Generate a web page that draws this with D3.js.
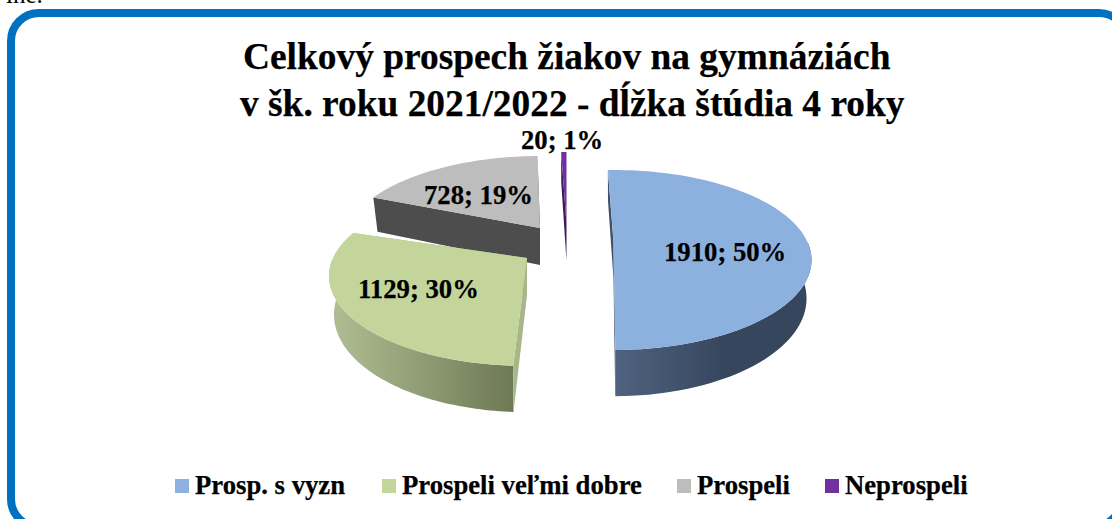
<!DOCTYPE html>
<html><head><meta charset="utf-8">
<script src="https://cdn.jsdelivr.net/npm/d3@7"></script>
<style>html,body{margin:0;padding:0;background:#fff;overflow:hidden}svg{display:block}text{font-family:"Liberation Serif",serif;font-weight:bold;fill:#000;stroke:#000;stroke-width:.25}</style>
</head><body><svg id="c" width="1112" height="519"></svg>
<script>
const categories=["Prosp. s vyzn","Prospeli veľmi dobre","Prospeli","Neprospeli"];
const values=[1910,1129,728,20];
const percents=[50,30,19,1];
const topColors=["#8DB1DF","#C3D59B","#BDBDBD","#7030A0"];
const titleLines=["Celkový prospech žiakov na gymnáziách","v šk. roku 2021/2022 - dĺžka štúdia 4 roky"];

const svg=d3.select("#c");
const deg=Math.PI/180;
const k=0.2,Rx=194,Ry=86.4,D=37,lowerShrink=0.975;
// per-slice placement of the exploded pieces
const apex=[[613.5,242],[527,258],[540,228],[566.5,224]];
const adjust=[[0,0],[3.7,1],[5.5,3],[2,2]];
const wallStops=[["#4F627F","#36465D"],["#B2BF93","#6E7955"],["#4D4D4D","#4D4D4D"],["#7030A0","#2A1040"]];
const cutColors=["#3F5069","#A9B68A","#4D4D4D","#3A1A58"];

const arcs=d3.pie().value(d=>d).sort(null).startAngle(-2*deg).endAngle(358*deg)(values);
function proj(a,i,down){
  const s=Math.sin(a),c=Math.cos(a),w=1+k*c;
  return [apex[i][0]+Rx*s/w*(down?lowerShrink:1), apex[i][1]-Ry*c/w+(down?D/w:0)];
}
const ap=(i,down)=>[apex[i][0],apex[i][1]+(down?D:0)];
const line=d3.line();
const defs=svg.append("defs");

// frame
svg.append("text").attr("x",6).attr("y",3).style("font-weight","normal").style("stroke","none").attr("font-size",25).text("ine.");
const frame=d3.path();
frame.moveTo(11,40);
frame.arc(39,41,28,Math.PI,1.5*Math.PI);
frame.lineTo(1099,13);
frame.arc(1099,41,28,1.5*Math.PI,2*Math.PI);
frame.lineTo(1121,499);
frame.arc(1093,499,28,0,.5*Math.PI);
frame.lineTo(39,527);
frame.arc(39,499,28,.5*Math.PI,Math.PI);
frame.closePath();
svg.append("path").attr("d",frame.toString()).attr("fill","#fff").attr("stroke","#0070C0").attr("stroke-width",8);

// title
const titleX=[243,240],titleY=[69,116];
titleLines.forEach((t,i)=>svg.append("text").attr("x",titleX[i]).attr("y",titleY[i]).attr("font-size",37.4).text(t));

const order=[2,3,0,1];
order.forEach(i=>{
  const d=arcs[i];
  const a0=d.startAngle+adjust[i][0]*deg,a1=d.endAngle+adjust[i][1]*deg;
  const n=90,ts=d3.range(n+1).map(j=>a0+(a1-a0)*j/n);
  const g=svg.append("g");
  // outer wall: only the front part of the rim is visible
  const front=ts.filter(a=>Math.cos(a)<0);
  if(front.length>1){
    const xs=front.map(a=>proj(a,i)[0]);
    const id="w"+i;
    const lg=defs.append("linearGradient").attr("id",id).attr("gradientUnits","userSpaceOnUse")
      .attr("x1",d3.min(xs)).attr("x2",i==1?d3.max(xs):d3.min(xs)+110).attr("y1",0).attr("y2",0);
    lg.append("stop").attr("offset",0).attr("stop-color",wallStops[i][0]);
    lg.append("stop").attr("offset",1).attr("stop-color",wallStops[i][1]);
    const pts=front.map(a=>proj(a,i)).concat(front.slice().reverse().map(a=>proj(a,i,true)));
    g.append("path").attr("d",line(pts)+"Z").attr("fill","url(#"+id+")");
  }
  // cut faces
  [a0,a1].forEach(a=>{
    const pts=[ap(i),proj(a,i),proj(a,i,true),ap(i,true)];
    g.append("path").attr("d",line(pts)+"Z").attr("fill",cutColors[i]);
  });
  // top
  g.append("path").attr("d",line([ap(i)].concat(ts.map(a=>proj(a,i))))+"Z").attr("fill",topColors[i]);
});

// data labels
const labelX=[664,358,424,521],labelY=[261,298,204,149];
values.forEach((v,i)=>svg.append("text").attr("x",labelX[i]).attr("y",labelY[i])
  .attr("font-size",26.7).text(v+"; "+percents[i]+"%"));

// legend
const legendX=[175,382,677,825];
categories.forEach((c,i)=>{
  svg.append("rect").attr("x",legendX[i]).attr("y",479).attr("width",14).attr("height",14).attr("fill",topColors[i]);
  svg.append("text").attr("x",legendX[i]+20).attr("y",494).attr("font-size",26.7).text(c);
});
</script></body></html>
